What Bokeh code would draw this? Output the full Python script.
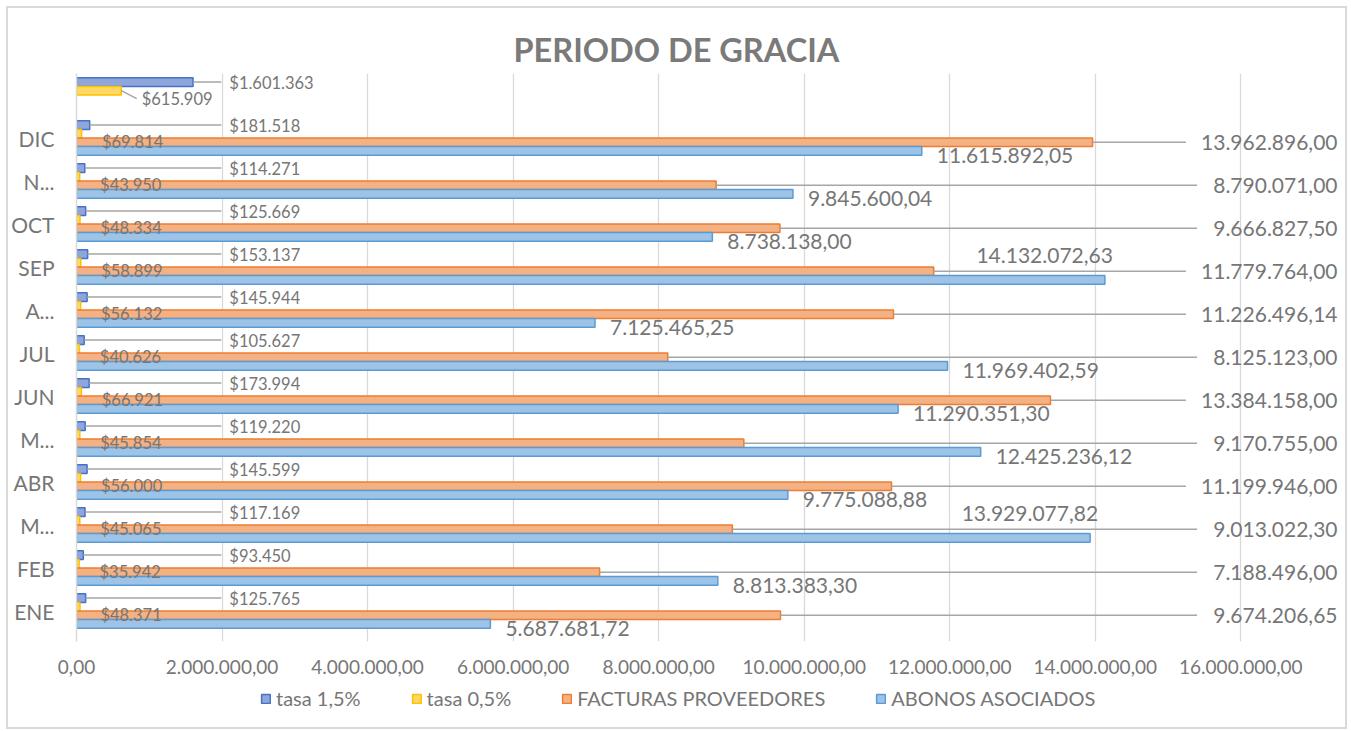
from bokeh.plotting import figure
from bokeh.layouts import column
from bokeh.models import ColumnDataSource, FixedTicker, Legend, LegendItem, Range1d
from bokeh.core.properties import value
from bokeh.embed import file_html
from bokeh.resources import INLINE

# ---------------- data ----------------
months = ["ENE", "FEB", "MAR", "ABR", "MAY", "JUN", "JUL", "AGO", "SEP", "OCT", "NOV", "DIC"]
axis_labels = ["ENE", "FEB", "M...", "ABR", "M...", "JUN", "JUL", "A...", "SEP", "OCT", "N...", "DIC", ""]
abonos = [5687681.72, 8813383.30, 13929077.82, 9775088.88, 12425236.12, 11290351.30,
          11969402.59, 7125465.25, 14132072.63, 8738138.00, 9845600.04, 11615892.05]
facturas = [9674206.65, 7188496.00, 9013022.30, 11199946.00, 9170755.00, 13384158.00,
            8125123.00, 11226496.14, 11779764.00, 9666827.50, 8790071.00, 13962896.00]
tasa_05 = [48371, 35942, 45065, 56000, 45854, 66921, 40626, 56132, 58899, 48334, 43950, 69814]
tasa_15 = [125765, 93450, 117169, 145599, 119220, 173994, 105627, 145944, 153137, 125669, 114271, 181518]
total_tasa_05 = 615909
total_tasa_15 = 1601363
x_ticks = [0, 2000000, 4000000, 6000000, 8000000, 10000000, 12000000, 14000000, 16000000]
series_names = ["tasa 1,5%", "tasa 0,5%", "FACTURAS PROVEEDORES", "ABONOS ASOCIADOS"]
labels_above = ["MAR", "SEP"]   # abonos labels placed above their bar

# ---------------- style ----------------
FONT = "Lato"
TXT = "#767676"
LEAD = "#a6a6a6"
COLORS = [("#8fa6dc", "#4472c4"), ("#ffd966", "#ffc000"), ("#f4b183", "#ed7d31"), ("#9dc3e6", "#5b9bd5")]
W = 1337
BL, BR, BT = 68, 5, 65
FRAME_W = W - BL - BR
FRAME_H = 568
BB = 45
H = BT + FRAME_H + BB
LEG_H = 41
CAT_PX = 43.0
XMAX = 17.37e6
YMAX = 12.5
YMIN = YMAX - FRAME_H / CAT_PX
DPX = XMAX / FRAME_W                 # data units per pixel (x)
NCAT = len(axis_labels)
YPX = 1.0 / CAT_PX                   # category units per pixel (y)


def eu(v, dec=2):
    s = f"{v:,.{dec}f}"
    return s.replace(",", "X").replace(".", ",").replace("X", ".")


n = len(months)
idx = list(range(n))

p = figure(width=W, height=H, output_backend="svg", toolbar_location=None,
           x_range=Range1d(0, XMAX), y_range=Range1d(YMIN, YMAX),
           min_border_left=BL, min_border_right=BR, min_border_top=BT, min_border_bottom=BB)
p.outline_line_color = None
p.background_fill_color = "white"
p.border_fill_color = "white"

# title
p.title.text = "PERIODO DE GRACIA"
p.title.align = "left"
p.title.offset = 437
p.title.text_font = FONT
p.title.text_font_size = "32.5px"
p.title.text_font_style = "bold"
p.title.text_color = "#7a7a7a"

# axes
p.xaxis.ticker = FixedTicker(ticks=x_ticks)
p.xaxis.major_label_overrides = {t: eu(t) for t in x_ticks}
p.xaxis.axis_line_color = None
p.xaxis.major_tick_line_color = None
p.xaxis.minor_tick_line_color = None
p.xaxis.major_label_text_font = FONT
p.xaxis.major_label_text_font_size = "19px"
p.xaxis.major_label_text_color = TXT
p.xaxis.major_label_standoff = 12

p.yaxis.ticker = FixedTicker(ticks=list(range(NCAT)))
p.yaxis.major_label_overrides = {i: lab for i, lab in enumerate(axis_labels)}
p.yaxis.axis_line_color = "#d9d9d9"
p.yaxis.axis_line_width = 1.5
p.yaxis.major_tick_line_color = None
p.yaxis.minor_tick_line_color = None
p.yaxis.major_label_text_font = FONT
p.yaxis.major_label_text_font_size = "21px"
p.yaxis.major_label_text_color = TXT
p.yaxis.major_label_standoff = 16

p.xgrid.ticker = FixedTicker(ticks=x_ticks)
p.xgrid.grid_line_color = "#d9d9d9"
p.xgrid.grid_line_width = 1.3
p.ygrid.grid_line_color = None

BH = 0.2
# bars
y15 = [i + 0.3 for i in range(n + 1)]
v15 = tasa_15 + [total_tasa_15]
y05 = [i + 0.1 for i in range(n + 1)]
v05 = tasa_05 + [total_tasa_05]
yF = [i - 0.1 for i in idx]
yA = [i - 0.3 for i in idx]

for yy, vv, (fc, lc) in zip([y15, y05, yF, yA], [v15, v05, facturas, abonos], COLORS):
    p.hbar(y=yy, left=0, right=vv, height=BH, fill_color=fc, line_color=lc, line_width=1.5)

# ---- tasa 1,5% labels with leader lines
lab15_x = 2.1e6
p.segment(x0=v15, y0=y15, x1=[lab15_x - 8 * DPX] * len(v15), y1=y15, line_color=LEAD, line_width=1.5)
p.text(x=[lab15_x] * len(v15), y=y15, text=["$" + eu(v, 0) for v in v15],
       text_align="left", text_baseline="middle", y_offset=1,
       text_font=value(FONT), text_font_size="16.5px", text_color=TXT)

# ---- tasa 0,5% labels
lab05_x = [v + 0.28e6 for v in v05]
lab05_dy = 8
p.segment(x0=[v05[-1]], y0=[y05[-1]], x1=[lab05_x[-1] - 5 * DPX], y1=[y05[-1] - lab05_dy * YPX],
          line_color=LEAD, line_width=1.5)
p.text(x=lab05_x, y=y05, text=["$" + eu(v, 0) for v in v05],
       text_align="left", text_baseline="middle", y_offset=lab05_dy,
       text_font=value(FONT), text_font_size="16.5px", text_color=TXT)

# ---- facturas labels (right side) with leader lines
labF_x = XMAX - 3 * DPX
labF_txt = [eu(v) for v in facturas]
p.segment(x0=facturas, y0=yF, x1=[labF_x - (len(t) * 11.2 + 6) * DPX for t in labF_txt], y1=yF,
          line_color=LEAD, line_width=1.5)
p.text(x=[labF_x] * n, y=yF, text=labF_txt, text_align="right", text_baseline="middle",
       text_font=value(FONT), text_font_size="21px", text_color=TXT)

# ---- abonos labels
above = [m in labels_above for m in months]
labA_x = [v + (8 if a else 15) * DPX for v, a in zip(abonos, above)]
labA_y = [y + (24 if a else -5) * YPX for y, a in zip(yA, above)]
srcA = ColumnDataSource(dict(x=labA_x, y=labA_y, text=[eu(v) for v in abonos],
                             align=["right" if a else "left" for a in above]))
p.text(x="x", y="y", text="text", text_align="align", text_baseline="middle", source=srcA,
       text_font=value(FONT), text_font_size="21px", text_color=TXT)

# ---------------- legend strip ----------------
pl = figure(width=W, height=LEG_H, output_backend="svg", toolbar_location=None,
            x_range=Range1d(0, 1), y_range=Range1d(0, 1),
            min_border_left=BL, min_border_right=BR, min_border_top=0, min_border_bottom=0)
pl.axis.visible = False
pl.grid.grid_line_color = None
pl.outline_line_color = None
pl.background_fill_color = "white"
pl.border_fill_color = "white"
items = []
for name, (fc, lc) in zip(series_names, COLORS):
    # swatch-only renderer: geometry is NaN so nothing is drawn in the strip
    r = pl.hbar(y=[float("nan")], left=[0], right=[0], height=0.5,
                fill_color=fc, line_color=lc, line_width=1.5)
    items.append(LegendItem(label=name, renderers=[r]))
legend = Legend(items=items, orientation="horizontal", location=(184, 17),
                label_text_font=FONT, label_text_font_size="20px", label_text_color=TXT,
                glyph_width=11, glyph_height=11, spacing=50, label_standoff=5,
                border_line_color=None, background_fill_alpha=0, margin=0, padding=0)
pl.add_layout(legend, "center")

layout = column(p, pl, spacing=0, margin=(6, 0, 0, 6),
                styles={"border": "2px solid #d9d9d9"})
open("out.html", "w").write(file_html(layout, INLINE))
